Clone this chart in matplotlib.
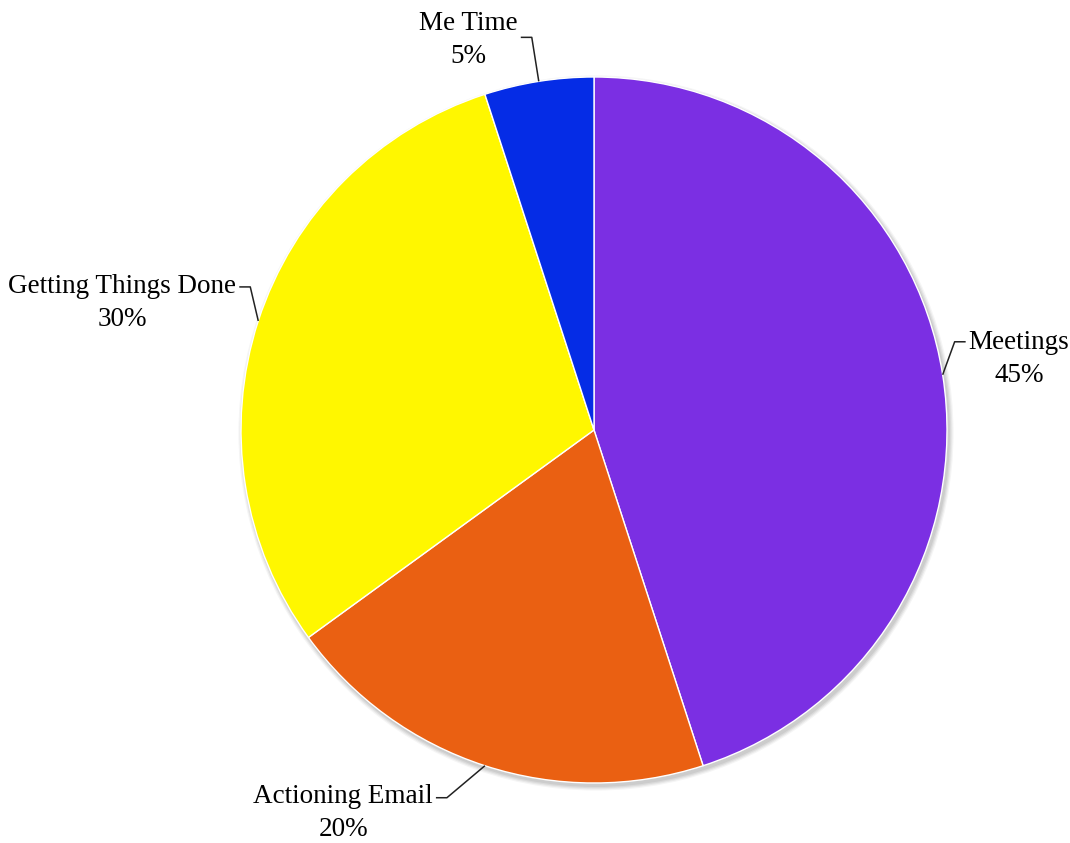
import matplotlib
matplotlib.use("Agg")
import matplotlib.pyplot as plt
import numpy as np
from matplotlib.patches import Circle

categories = ["Meetings", "Actioning Email", "Getting Things Done", "Me Time"]
values = [45, 20, 30, 5]
colors = ["#7B2FE3", "#EA6012", "#FFF700", "#052CE6"]

# label layout (pixel offsets from slice edge midpoint to connector elbow,
# and vertical shift of the text block relative to the elbow)
elbow_offsets = {
    "Meetings": (12, 33),
    "Actioning Email": (-38, -32),
    "Getting Things Done": (-8, 34),
    "Me Time": (-7, 44),
}
text_shift = {
    "Meetings": 0,
    "Actioning Email": 2,
    "Getting Things Done": 1,
    "Me Time": 14,
}

W, H = 1070, 843
fig = plt.figure(figsize=(W / 100, H / 100), dpi=100)
ax = fig.add_axes([0, 0, 1, 1])

cx, cy, R = 594, H - 430, 353

# soft shadow
for i, a in enumerate([0.06, 0.06, 0.05, 0.04]):
    ax.add_patch(Circle((cx + 2, cy - 3), R + 1 + i * 1.2, color="black",
                        alpha=a, lw=0, zorder=0))

wedges, _ = ax.pie(values, colors=colors, startangle=90, counterclock=False,
                   center=(cx, cy), radius=R,
                   wedgeprops=dict(edgecolor="white", linewidth=1.0))
for w in wedges:
    w.set_zorder(2)

ax.set_xlim(0, W)
ax.set_ylim(0, H)
ax.set_aspect("equal")
ax.axis("off")

font = "Liberation Serif"
fs = 19.5
total = sum(values)
cum = 0
for name, v in zip(categories, values):
    mid = cum + v / 2
    cum += v
    ang = np.deg2rad(90 - 360 * mid / total)
    ex, ey = cx + R * np.cos(ang), cy + R * np.sin(ang)
    dx, dy = elbow_offsets[name]
    bx, by = ex + dx, ey + dy
    side = 1 if np.cos(ang) > 0 else -1
    hx = bx + side * 11
    ax.plot([ex, bx, hx], [ey, by, by], color="#222222", lw=1.1,
            zorder=3, solid_capstyle="butt")
    tx = hx + side * 3
    ax.text(tx, by + 12 + text_shift[name], f"{name}\n{v}%",
            ha="left" if side > 0 else "right",
            va="top", multialignment="center", fontsize=fs, family=font,
            color="#000000", linespacing=1.42, zorder=4)

fig.savefig("out.png", dpi=100, facecolor="white")
